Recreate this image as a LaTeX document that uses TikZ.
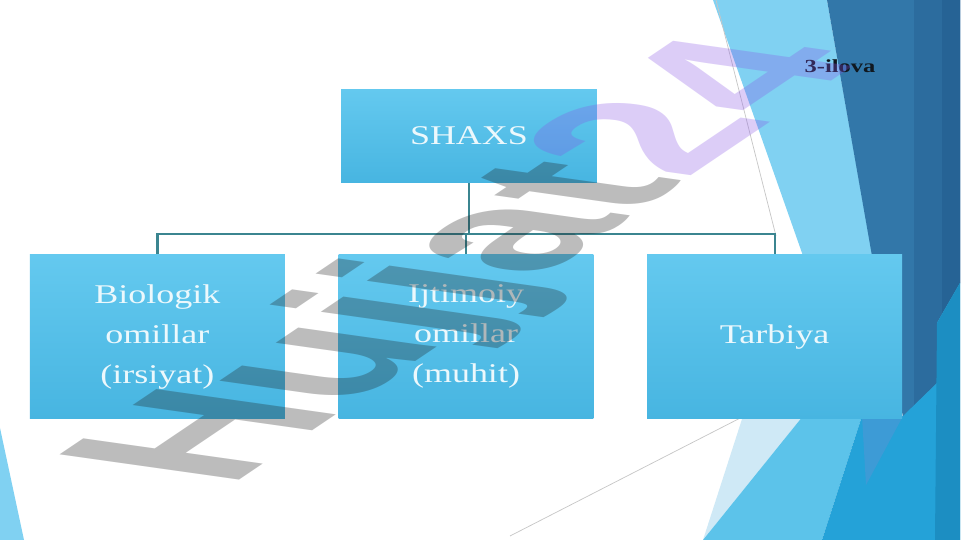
\documentclass[tikz,border=0pt]{standalone}
\usepackage{fontspec}
\setmainfont{Liberation Serif}[FakeStretch=1.33]
\newfontfamily\markfont{Liberation Sans}
\usepackage{tikz}
\usetikzlibrary{positioning}
\definecolor{boxtop}{HTML}{64C9EF}
\definecolor{boxbot}{HTML}{47B5E1}
\definecolor{boxtext}{HTML}{ECF8FC}
\definecolor{linkteal}{HTML}{3B8590}
\definecolor{labelink}{HTML}{101820}
\definecolor{fLight}{HTML}{80D1F2}
\definecolor{fDark}{HTML}{3277A9}
\definecolor{fDarkB}{HTML}{2C6C9E}
\definecolor{fDarkC}{HTML}{266395}
\definecolor{fPale}{HTML}{CFE9F6}
\definecolor{fLightB}{HTML}{5CC3EA}
\definecolor{fMid}{HTML}{3D9BD6}
\definecolor{fBright}{HTML}{24A2D8}
\definecolor{fBrightB}{HTML}{1C8EC2}
\definecolor{stampgray}{HTML}{1A1A1A}
\definecolor{stamplav}{HTML}{8754E6}
\tikzset{
  mainbox/.style={rectangle, top color=boxtop, bottom color=boxbot, minimum width=5.1cm, minimum height=3.28cm,
                  inner sep=2pt, text=boxtext, font=\fontsize{15.4}{22.7}\selectfont, align=center},
  headbox/.style={mainbox, minimum width=5.12cm, minimum height=1.88cm},
  link/.style={draw=linkteal, line width=1.3pt},
  hairline/.style={draw=gray!45, line width=0.4pt},
  stamp/.style={text opacity=0.29, inner sep=0pt, anchor=base west,
                font=\markfont\bfseries\fontsize{100}{100}\selectfont}, % reads like a multiply blend
}

\begin{document}
\begin{tikzpicture}[x=0.02cm, y=-0.02cm]
  \useasboundingbox (0,0) rectangle (961,540);
  \fill[white] (0,0) rectangle (961,540);

  % facets at the right and at the bottom left
  \fill[fLight] (713,0) -- (827,0) -- (875,270) -- (808,270) -- cycle;
  \fill[fDark] (827,0) -- (960,0) -- (960,283) -- (937,323) -- (937,383) -- (903,417) -- (872,256) -- cycle;
  \fill[fDarkB] (914,0) -- (960,0) -- (960,283) -- (937,323) -- (937,383) -- (914,406) -- cycle;
  \fill[fDarkC] (942,0) -- (960,0) -- (960,283) -- (942,313) -- cycle;
  \fill[fPale] (743,416) -- (803,416) -- (703,540) -- cycle;
  \fill[fLightB] (803,416) -- (862,416) -- (822,540) -- (703,540) -- cycle;
  \fill[fBright] (862,416) -- (903,416) -- (937,383) -- (937,323) -- (960,283) -- (960,540) -- (822,540) -- cycle;
  \fill[fMid] (862,416) -- (903,416) -- (866,485) -- cycle;
  \fill[fBrightB] (937,323) -- (960,283) -- (960,540) -- (935,540) -- cycle;
  \fill[fLight] (0,428) -- (24,540) -- (0,540) -- cycle;
  \draw[hairline] (716,0) -- (776,236);
  \draw[hairline] (510,536) -- (752,412);

  \node[headbox] (node1) at (469,136) {SHAXS};
  \node[mainbox] (node3) [below=1.42cm of node1, xshift=-0.06cm] {Ijtimoiy\\omillar\\(muhit)};
  \node[mainbox] (node2) [left=1.06cm of node3] {Biologik\\omillar\\(irsiyat)};
  \node[mainbox] (node4) [right=1.06cm of node3] {Tarbiya};
  \node[text=labelink, font=\bfseries\fontsize{10.5}{12}\selectfont] (label) at (840,66) {3-ilova};

  \draw[link] (node1.south) -- ++(0,51) coordinate (hub);
  \draw[link] (hub) -| (node2.north);
  \draw[link] (hub) -| (node3.north);
  \draw[link] (hub) -| (node4.north);

  \begin{scope}[shift={(228,488)}]
    \node[stamp, cm={0.937,0.632,-1.485,0.209,(0,0)}] (mark) at (0,0)
      {\textcolor{stampgray}{Hujjat}\textcolor{stamplav}{24}};
  \end{scope}
\end{tikzpicture}
\end{document}
